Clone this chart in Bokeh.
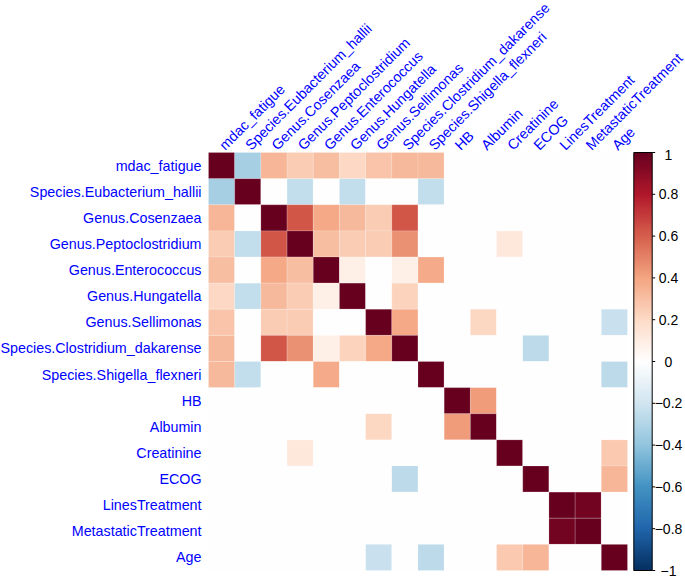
import numpy as np
from bokeh.plotting import figure
from bokeh.models import Range1d, LinearColorMapper, ColumnDataSource
from bokeh.embed import file_html
from bokeh.resources import INLINE
from bokeh.core.properties import value

variables = [
    "mdac_fatigue", "Species.Eubacterium_hallii", "Genus.Cosenzaea",
    "Genus.Peptoclostridium", "Genus.Enterococcus", "Genus.Hungatella",
    "Genus.Sellimonas", "Species.Clostridium_dakarense",
    "Species.Shigella_flexneri", "HB", "Albumin", "Creatinine", "ECOG",
    "LinesTreatment", "MetastaticTreatment", "Age",
]

corr = [
    [1.00, -0.33, 0.33, 0.25, 0.30, 0.20, 0.28, 0.32, 0.32, 0, 0, 0, 0, 0, 0, 0],
    [-0.33, 1.00, 0, -0.25, 0, -0.25, 0, 0, -0.25, 0, 0, 0, 0, 0, 0, 0],
    [0.33, 0, 1.00, 0.62, 0.38, 0.32, 0.25, 0.62, 0, 0, 0, 0, 0, 0, 0, 0],
    [0.25, -0.25, 0.62, 1.00, 0.30, 0.25, 0.25, 0.45, 0, 0, 0, 0.13, 0, 0, 0, 0],
    [0.30, 0, 0.38, 0.30, 1.00, 0.08, 0, 0.08, 0.37, 0, 0, 0, 0, 0, 0, 0],
    [0.20, -0.25, 0.32, 0.25, 0.08, 1.00, 0, 0.22, 0, 0, 0, 0, 0, 0, 0, 0],
    [0.28, 0, 0.25, 0.25, 0, 0, 1.00, 0.38, 0, 0, 0.21, 0, 0, 0, 0, -0.23],
    [0.32, 0, 0.62, 0.45, 0.08, 0.22, 0.38, 1.00, 0, 0, 0, 0, -0.27, 0, 0, 0],
    [0.32, -0.25, 0, 0, 0.37, 0, 0, 0, 1.00, 0, 0, 0, 0, 0, 0, -0.27],
    [0, 0, 0, 0, 0, 0, 0, 0, 0, 1.00, 0.42, 0, 0, 0, 0, 0],
    [0, 0, 0, 0, 0, 0, 0.21, 0, 0, 0.42, 1.00, 0, 0, 0, 0, 0],
    [0, 0, 0, 0.13, 0, 0, 0, 0, 0, 0, 0, 1.00, 0, 0, 0, 0.26],
    [0, 0, 0, 0, 0, 0, 0, -0.27, 0, 0, 0, 0, 1.00, 0, 0, 0.33],
    [0, 0, 0, 0, 0, 0, 0, 0, 0, 0, 0, 0, 0, 1.00, 0.96, 0],
    [0, 0, 0, 0, 0, 0, 0, 0, 0, 0, 0, 0, 0, 0.96, 1.00, 0],
    [0, 0, 0, 0, 0, 0, -0.23, 0, -0.27, 0, 0, 0.26, 0.33, 0, 0, 1.00],
]

cbar_ticks = [-1.0, -0.8, -0.6, -0.4, -0.2, 0.0, 0.2, 0.4, 0.6, 0.8, 1.0]
cbar_labels = ["\u22121", "\u22120.8", "\u22120.6", "\u22120.4", "\u22120.2",
               "0", "0.2", "0.4", "0.6", "0.8", "1"]

rdbu_anchors = ["#053061", "#2166AC", "#4393C3", "#92C5DE", "#D1E5F0", "#FFFFFF",
                "#FDDBC7", "#F4A582", "#D6604D", "#B2182B", "#67001F"]


def hex2rgb(h):
    h = h.lstrip("#")
    return np.array([int(h[i:i + 2], 16) for i in (0, 2, 4)], dtype=float)


def make_palette(anchors, n):
    rgb = np.array([hex2rgb(a) for a in anchors])
    pos = np.linspace(0, 1, len(anchors))
    t = np.linspace(0, 1, n)
    out = []
    for ti in t:
        r = np.interp(ti, pos, rgb[:, 0])
        g = np.interp(ti, pos, rgb[:, 1])
        b = np.interp(ti, pos, rgb[:, 2])
        out.append("#%02x%02x%02x" % (int(round(r)), int(round(g)), int(round(b))))
    return out


palette = make_palette(rdbu_anchors, 200)
mapper = LinearColorMapper(palette=palette, low=-1, high=1)

n = len(variables)
W, H = 685, 578
mat_left, mat_top, mat_bottom = 208.0, 152.0, 570.0
cw = 419.0 / n
ch = (mat_bottom - mat_top) / n

x_range = Range1d(-mat_left / cw, (W - mat_left) / cw)
y_range = Range1d(-(H - mat_bottom) / ch, n + mat_top / ch)

p = figure(width=W, height=H, x_range=x_range, y_range=y_range,
           output_backend="svg", toolbar_location=None, min_border=0,
           tools="")
p.axis.visible = False
p.grid.visible = False
p.outline_line_color = None
p.background_fill_color = "white"
p.border_fill_color = "white"

xs, ys, vs = [], [], []
for i in range(n):
    for j in range(n):
        xs.append(j + 0.5)
        ys.append(n - i - 0.5)
        vs.append(corr[i][j])
src = ColumnDataSource(dict(x=xs, y=ys, v=vs))
p.rect(x="x", y="y", width=1, height=1, source=src,
       fill_color={"field": "v", "transform": mapper},
       line_color="white", line_alpha=0.35, line_width=0.5)

font = value("Liberation Sans")

# row labels
p.text(x=[-7.0 / cw] * n, y=[n - i - 0.5 for i in range(n)], text=variables,
       text_font=font, text_font_size="14.3px", text_color="#0000FF",
       text_align="right", text_baseline="middle")

# column labels (rotated)
p.text(x=[j + 0.5 for j in range(n)], y=[n + 5.0 / ch] * n, text=variables,
       text_font=font, text_font_size="14.3px", text_color="#0000FF",
       text_align="left", text_baseline="alphabetic", angle=np.pi / 4)

# colour bar
cb_x0 = (633.3 - mat_left) / cw
cb_x1 = (651.7 - mat_left) / cw
grad = np.linspace(-1, 1, 400).reshape(400, 1)
p.image(image=[grad], x=cb_x0, y=0, dw=cb_x1 - cb_x0, dh=n, color_mapper=mapper)
p.quad(left=[cb_x0], right=[cb_x1], bottom=[0], top=[n],
       fill_color=None, line_color="black", line_width=1)

tick_y = [(t + 1) / 2.0 * n for t in cbar_ticks]
p.segment(x0=[cb_x1] * len(tick_y), y0=tick_y,
          x1=[cb_x1 + 3.0 / cw] * len(tick_y), y1=tick_y,
          line_color="black", line_width=1)
label_y = [min(y, n - 2.0 / ch) for y in tick_y]
p.text(x=[(668.0 - mat_left) / cw] * len(tick_y), y=label_y, text=cbar_labels,
       text_font=font, text_font_size="14px", text_color="black",
       text_align="center", text_baseline="middle")

open("out.html", "w").write(file_html(p, INLINE))
